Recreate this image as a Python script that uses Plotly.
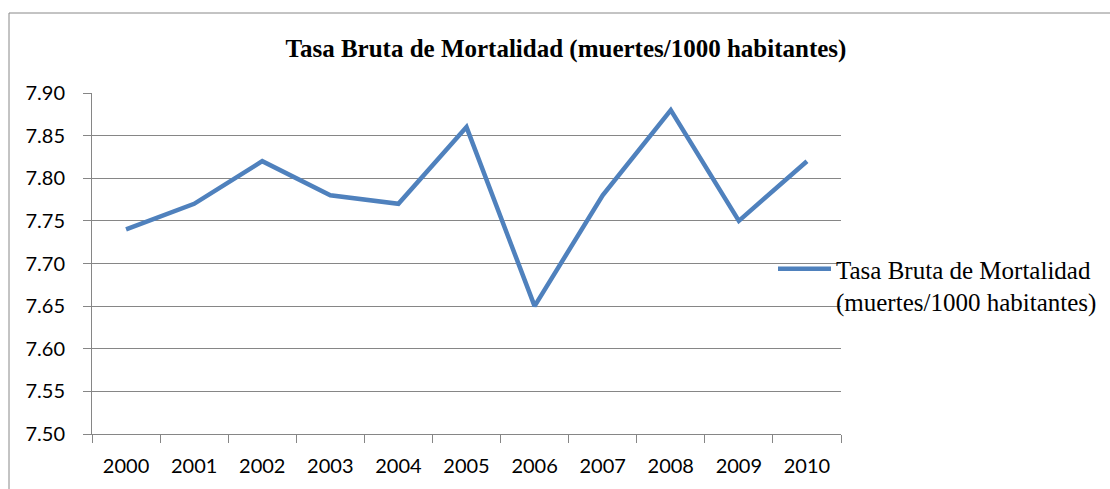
import plotly.graph_objects as go

years = ["2000", "2001", "2002", "2003", "2004", "2005", "2006", "2007", "2008", "2009", "2010"]
tasa = [7.74, 7.77, 7.82, 7.78, 7.77, 7.86, 7.65, 7.78, 7.88, 7.75, 7.82]
series_name = "Tasa Bruta de Mortalidad<br>(muertes/1000 habitantes)"
title_text = "Tasa Bruta de Mortalidad (muertes/1000 habitantes)"
y_ticks = [7.50, 7.55, 7.60, 7.65, 7.70, 7.75, 7.80, 7.85, 7.90]

W, H = 1110, 489
L, R, T, B = 92, 269, 93, 55
pw, ph = W - L - R, H - T - B

fig = go.Figure()
fig.add_trace(go.Scatter(
    x=years, y=tasa, mode="lines", name=series_name,
    line=dict(color="#4F81BD", width=4.5),
))

grid = "#868686"
tick_font = dict(family="Lato, Carlito, Calibri, sans-serif", size=20, color="#000000")

fig.update_layout(
    width=W, height=H,
    margin=dict(l=L, r=R, t=T, b=B, autoexpand=False),
    paper_bgcolor="white", plot_bgcolor="white",
    title=dict(text="<b>" + title_text + "</b>", x=566 / W, xanchor="center",
               y=1 - 48 / H, yanchor="middle",
               font=dict(family="Liberation Serif, Times New Roman, serif", size=25, color="#000")),
    showlegend=True,
    legend=dict(x=(773 - L) / pw, y=(434 - 285) / ph, xanchor="left", yanchor="middle",
                bgcolor="rgba(0,0,0,0)", tracegroupgap=0, valign="top", itemwidth=53,
                font=dict(family="Liberation Serif, Times New Roman, serif", size=25, color="#000")),
    xaxis=dict(type="category", range=[-0.5, 10.5], tickson="boundaries",
               ticks="outside", ticklen=8, tickcolor=grid, tickwidth=1,
               showline=True, linecolor=grid, linewidth=1, showgrid=False,
               tickfont=tick_font, ticklabelstandoff=14),
    yaxis=dict(range=[7.50, 7.90], tickvals=y_ticks, tickformat=".2f",
               ticks="outside", ticklen=8, tickcolor=grid, tickwidth=1,
               showline=True, linecolor=grid, linewidth=1,
               showgrid=True, gridcolor=grid, gridwidth=1, zeroline=False,
               tickfont=tick_font, ticklabelstandoff=14),
)

# outer chart border (extends past the picture at right and bottom)
fig.add_shape(type="rect", xref="paper", yref="paper",
              x0=(9 - L) / pw, x1=(W + 10 - L) / pw,
              y0=(H - B - (H + 10)) / ph, y1=(H - B - 13) / ph,
              line=dict(color="#888888", width=1), fillcolor="rgba(0,0,0,0)", layer="below")

fig.write_html("out.html", config={"displayModeBar": False},
               post_script="document.body.style.margin='0';document.body.style.padding='0';")
